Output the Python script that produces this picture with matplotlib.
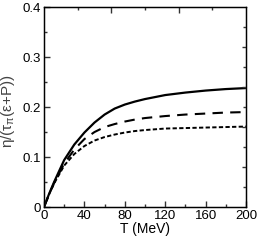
import numpy as np
import matplotlib.pyplot as plt
from matplotlib.ticker import MultipleLocator, FixedLocator, FuncFormatter

plt.rcParams['font.family'] = ['Liberation Sans', 'DejaVu Sans']
plt.rcParams['mathtext.fontset'] = 'custom'
plt.rcParams['mathtext.rm'] = 'Liberation Sans'
plt.rcParams['mathtext.it'] = 'Liberation Sans'

# values
T = [0, 5, 10, 20, 30, 40, 50, 60, 70, 80, 90, 100, 120, 140, 160, 180, 200]
solid = [0, 0.026, 0.050, 0.094, 0.125, 0.149, 0.169, 0.185, 0.197, 0.205, 0.211, 0.216, 0.224, 0.229, 0.233, 0.236, 0.238]
dashed = [0, 0.025, 0.048, 0.087, 0.115, 0.136, 0.150, 0.160, 0.166, 0.171, 0.175, 0.178, 0.182, 0.185, 0.187, 0.189, 0.190]
dotted = [0, 0.025, 0.047, 0.083, 0.106, 0.122, 0.133, 0.140, 0.145, 0.149, 0.152, 0.154, 0.157, 0.158, 0.159, 0.160, 0.161]

fig = plt.figure(figsize=(2.58, 2.42), dpi=100)
ax = fig.add_axes([0.1705, 0.1446, 0.783, 0.826])

ax.plot(T, solid, color='black', lw=1.6, solid_capstyle='butt')
ax.plot(T, dashed, color='black', lw=1.5, dashes=(5, 3.5))
ax.plot(T, dotted, color='black', lw=1.4, dashes=(2.2, 1.2))

ax.set_xlim(0, 200)
ax.set_ylim(0, 0.4)
ax.xaxis.set_major_locator(MultipleLocator(40))
ax.xaxis.set_minor_locator(MultipleLocator(20))
ax.yaxis.set_major_locator(MultipleLocator(0.1))
ax.yaxis.set_minor_locator(MultipleLocator(0.05))
ax.yaxis.set_major_formatter(FuncFormatter(lambda v, p: '0' if abs(v) < 1e-9 else f'{v:.1f}'))
ax.tick_params(which='both', direction='in', labelsize=9.5, pad=2, color='#333333')
ax.tick_params(which='major', length=4, width=1)
ax.tick_params(which='minor', length=2.5, width=1)
for s in ax.spines.values():
    s.set_color('#444444')
    s.set_linewidth(1)

# top and right ticks on their own scales
top = ax.twiny()
top.set_xlim(0, 200)
top.xaxis.set_major_locator(FixedLocator([200 / 3, 400 / 3]))
top.xaxis.set_minor_locator(FixedLocator([100 / 3, 100, 500 / 3]))
top.tick_params(which='both', direction='in', labeltop=False, color='#333333')
top.tick_params(which='major', length=4, width=1)
top.tick_params(which='minor', length=2.5, width=1)

right = ax.twinx()
right.set_ylim(0, 0.4)
right.yaxis.set_major_locator(FixedLocator([0.08, 0.16, 0.24, 0.32]))
right.yaxis.set_minor_locator(FixedLocator([0.04, 0.12, 0.2, 0.28, 0.36]))
right.tick_params(which='both', direction='in', labelright=False, color='#333333')
right.tick_params(which='major', length=3, width=1)
right.tick_params(which='minor', length=2, width=1)

ax.set_xlabel('T (MeV)', fontsize=10, labelpad=0)
ax.set_ylabel(r'η/(τ$_\pi$(ε+P))', fontsize=11, color='#444444')
ax.yaxis.set_label_coords(-0.135, 0.48)

fig.savefig('out.png', dpi=100)
